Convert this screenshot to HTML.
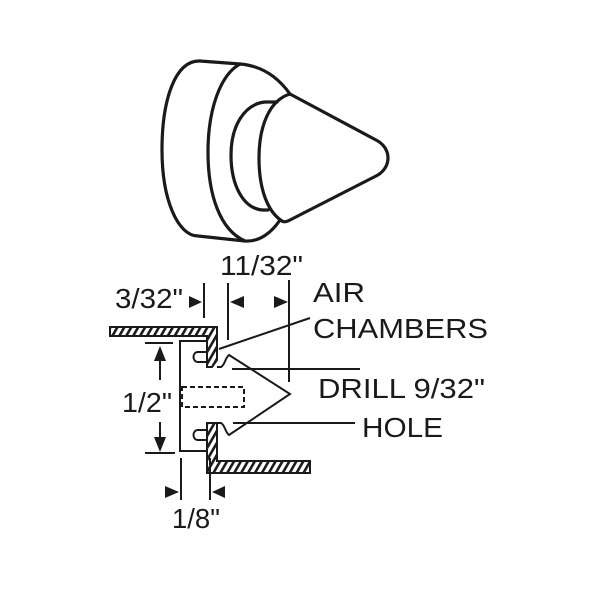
<!DOCTYPE html>
<html><head><style>html,body{margin:0;padding:0;background:#fff}svg{display:block}</style></head>
<body>
<svg width="600" height="600" viewBox="0 0 600 600" xmlns="http://www.w3.org/2000/svg">
<defs>
<pattern id="h" patternUnits="userSpaceOnUse" width="6" height="6" patternTransform="rotate(30)">
<rect width="6" height="6" fill="#fff"/><rect width="2.6" height="6" fill="#1a1a1a"/>
</pattern>
</defs>
<g fill="none" stroke="#1a1a1a" stroke-width="3.2" stroke-linecap="round" stroke-linejoin="round">
<path d="M200,61 C175,60 162,100 162,150 C162,200 178,236 198,236 L245,241 C260,242 272,232 280,220"/>
<path d="M200,61 L240,64 C265,66 280,80 290,94"/>
<path d="M240,64 C220,75 208,110 208,152 C208,195 220,230 245,241"/>
<path d="M277,102 L265,102 C245,104 231,125 231,155 C231,185 243,208 262,210 L268,210"/>
<path d="M290,94 L376,140 C392,148 392,168 376,176 L288,221 C285,222 283,222 282,221"/>
<path d="M290,94 C270,100 259,125 259,158 C259,190 268,212 282,221"/>
</g>
<g stroke="#1a1a1a" stroke-width="2" stroke-linejoin="miter">
<path d="M110,327 L217,327 L217,360 L212,367 L207,367 L207,336 L110,336 Z" fill="url(#h)"/>
<path d="M207,423 L217,423 L217,461 L310,461 L310,473 L207,473 Z" fill="url(#h)"/>
</g>
<g fill="none" stroke="#1a1a1a" stroke-width="2">
<path d="M207,341 L180,341 L180,451 L207,451"/>
<path d="M207,352 L198,352 C192,352 192,362 198,362 L207,362"/>
<path d="M207,430 L198,430 C192,430 192,440 198,440 L207,440"/>
<path d="M217,367 L221,367 C225,365 225,358 229,355 L290,394 L229,435 C225,432 225,425 221,423 L217,423"/>
<rect x="182" y="387" width="62" height="20" stroke-dasharray="5,3"/>
<line x1="204" y1="283" x2="204" y2="318"/>
<line x1="228" y1="283" x2="228" y2="340"/>
<line x1="289" y1="280" x2="289" y2="382"/>
<line x1="145" y1="343" x2="173" y2="343"/>
<line x1="145" y1="453" x2="175" y2="453"/>
<line x1="181" y1="458" x2="181" y2="500"/>
<line x1="210" y1="458" x2="210" y2="500"/>
<line x1="160" y1="355" x2="160" y2="380"/>
<line x1="160" y1="422" x2="160" y2="445"/>
<line x1="310" y1="318" x2="219" y2="349"/>
<line x1="232" y1="369" x2="360" y2="369"/>
<line x1="233" y1="423" x2="355" y2="423"/>
</g>
<g fill="#1a1a1a">
<polygon points="202,302 189,296 189,308"/>
<polygon points="230,302 244,296 244,308"/>
<polygon points="288,302 274,296 274,308"/>
<polygon points="160,346 154,361 166,361"/>
<polygon points="160,452 154,437 166,437"/>
<polygon points="179,492 165,486 165,498"/>
<polygon points="212,492 225,486 225,498"/>
</g>
<g font-family="'Liberation Sans', sans-serif" font-size="28" fill="#1a1a1a">
<text x="220" y="275" textLength="83" lengthAdjust="spacingAndGlyphs">11/32"</text>
<text x="115" y="308" textLength="68" lengthAdjust="spacingAndGlyphs">3/32"</text>
<text x="313" y="302" textLength="52" lengthAdjust="spacingAndGlyphs">AIR</text>
<text x="313" y="338" textLength="175" lengthAdjust="spacingAndGlyphs">CHAMBERS</text>
<text x="318" y="398" textLength="167" lengthAdjust="spacingAndGlyphs">DRILL 9/32"</text>
<text x="362" y="437" textLength="81" lengthAdjust="spacingAndGlyphs">HOLE</text>
<text x="122" y="412" textLength="50" lengthAdjust="spacingAndGlyphs">1/2"</text>
<text x="172" y="528" textLength="48" lengthAdjust="spacingAndGlyphs">1/8"</text>
</g>
</svg>
</body></html>
